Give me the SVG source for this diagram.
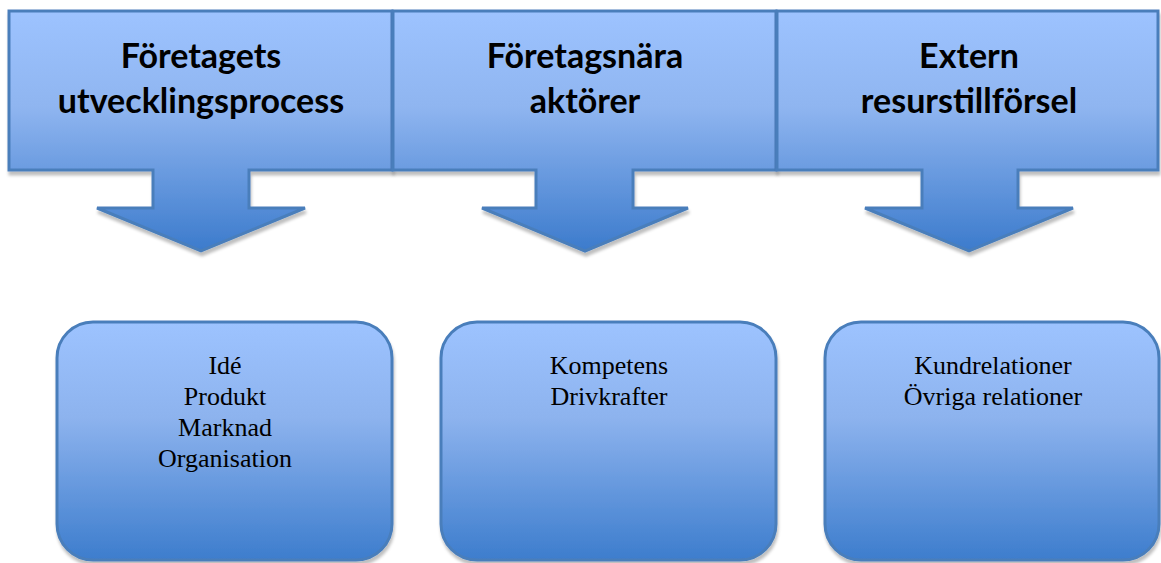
<svg xmlns="http://www.w3.org/2000/svg" width="1161" height="563" viewBox="0 0 1161 563">
<defs>
<linearGradient id="gCall" gradientUnits="userSpaceOnUse" x1="0" y1="11" x2="0" y2="251">
<stop offset="0" stop-color="#9dc3ff"/><stop offset="0.4" stop-color="#8fb5f0"/><stop offset="1" stop-color="#3c7bcc"/>
</linearGradient>
<linearGradient id="gBox" x1="0" y1="0" x2="0" y2="1">
<stop offset="0" stop-color="#9dc3ff"/><stop offset="0.4" stop-color="#8db3ee"/><stop offset="1" stop-color="#3d7dcd"/>
</linearGradient>
<filter id="sh" x="-5%" y="-5%" width="110%" height="115%">
<feGaussianBlur in="SourceAlpha" stdDeviation="1.5"/>
<feOffset dx="1" dy="4" result="b"/>
<feFlood flood-color="#000" flood-opacity="0.25"/>
<feComposite in2="b" operator="in"/>
<feMerge><feMergeNode/><feMergeNode in="SourceGraphic"/></feMerge>
</filter>
</defs>
<style>
.call{fill:url(#gCall);stroke:#4a7ebb;stroke-width:3;filter:url(#sh)}
.box{fill:url(#gBox);stroke:#4a7ebb;stroke-width:3;filter:url(#sh)}
.h{font-family:Lato,"Open Sans","Liberation Sans",sans-serif;font-weight:bold;font-size:34px;fill:#000;text-anchor:middle}
.t{font-family:"Liberation Serif","Times New Roman",serif;font-size:26px;fill:#000;text-anchor:middle}
</style>
<rect width="1161" height="563" fill="#fff"/>
<g id="connectors"></g>
<g id="callout1">
<path class="call" d="M9,11 H392 V170 H249 V208 H305 L201,251 L97,208 H153 V170 H9 Z"/>
<text class="h" x="201" y="68">Företagets</text>
<text class="h" x="201" y="113">utvecklingsprocess</text>
</g>
<g id="callout2">
<path class="call" d="M393,11 H776 V170 H633 V208 H688 L585,251 L482,208 H536 V170 H393 Z"/>
<text class="h" x="585" y="68">Företagsnära</text>
<text class="h" x="585" y="113">aktörer</text>
</g>
<g id="callout3">
<path class="call" d="M777,11 H1158 V170 H1018 V208 H1073 L969,251 L865,208 H922 V170 H777 Z"/>
<text class="h" x="969" y="68">Extern</text>
<text class="h" x="969" y="113">resurstillförsel</text>
</g>
<g id="box1">
<rect class="box" x="57" y="322" width="335" height="238" rx="36"/>
<text class="t" x="225" y="374">Idé</text>
<text class="t" x="225" y="405">Produkt</text>
<text class="t" x="225" y="436">Marknad</text>
<text class="t" x="225" y="467">Organisation</text>
</g>
<g id="box2">
<rect class="box" x="441" y="322" width="335" height="238" rx="36"/>
<text class="t" x="609" y="374">Kompetens</text>
<text class="t" x="609" y="405">Drivkrafter</text>
</g>
<g id="box3">
<rect class="box" x="825" y="322" width="334" height="238" rx="36"/>
<text class="t" x="993" y="374">Kundrelationer</text>
<text class="t" x="993" y="405">Övriga relationer</text>
</g>
</svg>
